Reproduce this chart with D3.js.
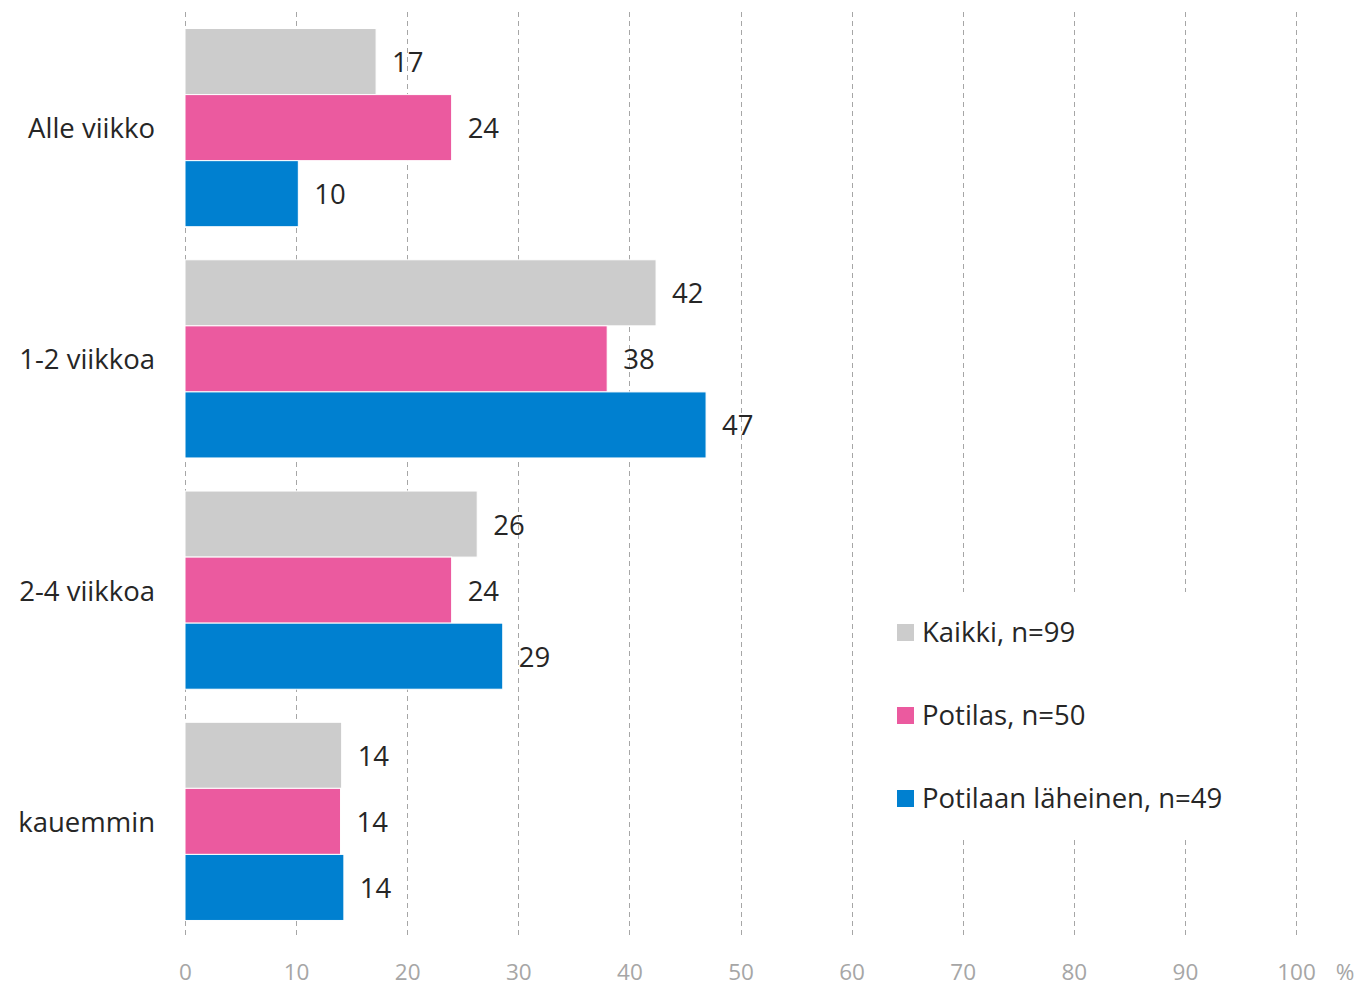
<!DOCTYPE html>
<html>
<head>
<meta charset="utf-8">
<script src="https://cdn.jsdelivr.net/npm/d3@7"></script>
<style>
  html, body { margin: 0; padding: 0; background: #fff; }
  svg { display: block; }
  text { font-family: "Open Sans", Lato, sans-serif; }
</style>
</head>
<body>
<svg id="chart" width="1358" height="994"></svg>
<script>
const categories = ["Alle viikko", "1-2 viikkoa", "2-4 viikkoa", "kauemmin"];
const seriesNames = ["Kaikki, n=99", "Potilas, n=50", "Potilaan läheinen, n=49"];
const seriesColors = ["#cccccc", "#eb5a9f", "#0080d0"];
const kaikki = [17.2, 42.4, 26.3, 14.1];
const potilas = [24.0, 38.0, 24.0, 14.0];
const laheinen = [10.2, 46.9, 28.6, 14.3];
const labelsKaikki = ["17", "42", "26", "14"];
const labelsPotilas = ["24", "38", "24", "14"];
const labelsLaheinen = ["10", "47", "29", "14"];
const xTicks = [0, 10, 20, 30, 40, 50, 60, 70, 80, 90, 100];
const unitLabel = "%";

const series = [kaikki, potilas, laheinen];
const seriesLabels = [labelsKaikki, labelsPotilas, labelsLaheinen];

const svg = d3.select("#chart");
const plotLeft = 185, plotRight = 1296, plotTop = 12, plotBottom = 937;
const FONT = 27.5;

const x = d3.scaleLinear().domain([0, 100]).range([plotLeft, plotRight]);
const y0 = d3.scaleBand().domain(categories).range([plotTop, plotBottom]).paddingInner(0.143).paddingOuter(0.0715);
const y1 = d3.scaleBand().domain([0, 1, 2]).range([0, y0.bandwidth()]);

// gridlines
svg.append("g").selectAll("line").data(xTicks).join("line")
  .attr("x1", d => Math.round(x(d)) + 0.5).attr("x2", d => Math.round(x(d)) + 0.5)
  .attr("y1", plotTop).attr("y2", plotBottom)
  .attr("stroke", "#a6a6a6").attr("stroke-width", 1)
  .attr("stroke-dasharray", "5,4");

// bars
const groups = svg.append("g").selectAll("g").data(categories).join("g")
  .attr("transform", c => `translate(0,${y0(c)})`);

groups.each(function(c, ci) {
  const g = d3.select(this);
  series.forEach((s, si) => {
    g.append("rect")
      .attr("x", x(0))
      .attr("y", y1(si))
      .attr("width", x(s[ci]) - x(0))
      .attr("height", y1.bandwidth())
      .attr("fill", seriesColors[si])
      .attr("stroke", "#fff").attr("stroke-width", 1);
    g.append("text")
      .attr("x", x(s[ci]) + 16)
      .attr("y", y1(si) + y1.bandwidth() / 2)
      .attr("dy", "0.38em")
      .attr("fill", "#262626")
      .attr("font-size", FONT)
      .text(seriesLabels[si][ci]);
  });
});

// category labels
svg.append("g").selectAll("text").data(categories).join("text")
  .attr("x", 155)
  .attr("y", c => y0(c) + y0.bandwidth() / 2)
  .attr("dy", "0.38em")
  .attr("text-anchor", "end")
  .attr("fill", "#262626")
  .attr("font-size", FONT)
  .text(d => d);

// x axis tick labels
const xAxis = d3.axisBottom(x).tickValues(xTicks).tickSize(0).tickPadding(0);
const ax = svg.append("g").attr("transform", `translate(0,${plotBottom + 35})`).call(xAxis);
ax.select(".domain").remove();
ax.selectAll("text")
  .attr("fill", "#a6a6a6")
  .attr("font-size", 22.5)
  .attr("font-family", "'Open Sans', Lato, sans-serif")
  .attr("dy", "0.36em")
  .attr("y", 0);

svg.append("text")
  .attr("x", 1345).attr("y", plotBottom + 35).attr("dy", "0.36em")
  .attr("text-anchor", "middle")
  .attr("fill", "#a6a6a6").attr("font-size", 22.5)
  .text(unitLabel);

// legend
const lg = svg.append("g");
lg.append("rect").attr("x", 870).attr("y", 592).attr("width", 380).attr("height", 248).attr("fill", "#fff");
const legendItems = lg.selectAll("g").data(seriesNames).join("g")
  .attr("transform", (d, i) => `translate(897,${632 + i * 83})`);
legendItems.append("rect").attr("x", 0).attr("y", -8).attr("width", 17).attr("height", 17)
  .attr("fill", (d, i) => seriesColors[i]);
legendItems.append("text").attr("x", 25).attr("y", 0).attr("dy", "0.38em")
  .attr("fill", "#262626").attr("font-size", FONT).text(d => d);
</script>
</body>
</html>
